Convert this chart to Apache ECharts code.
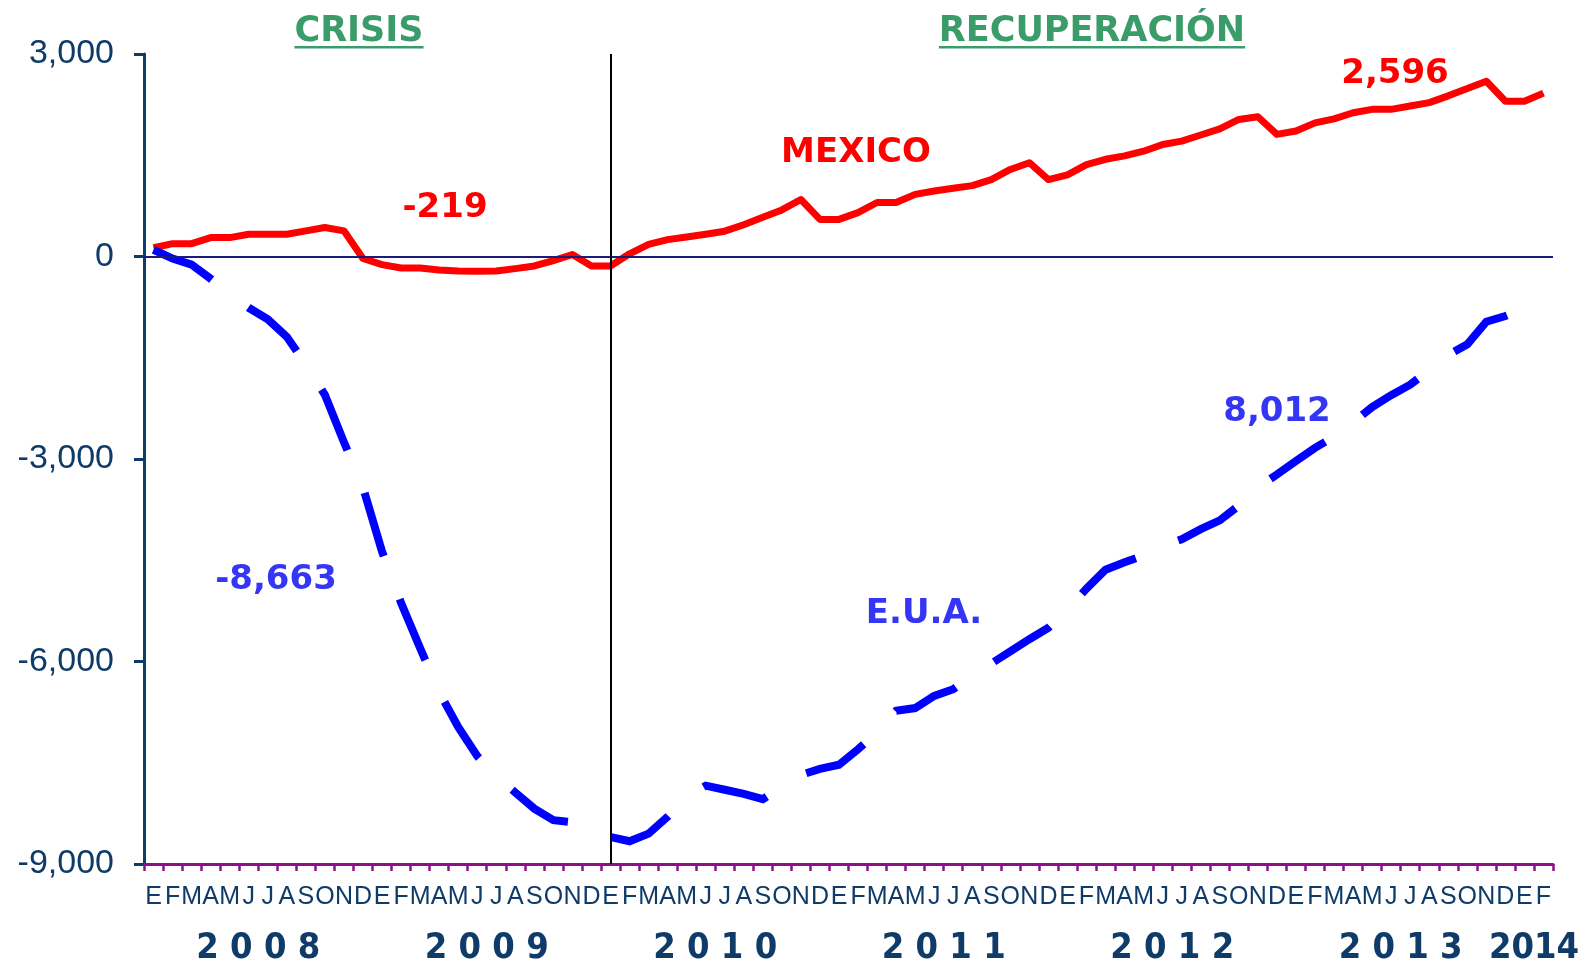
<!DOCTYPE html>
<html>
<head>
<meta charset="utf-8">
<script src="https://cdn.jsdelivr.net/npm/echarts@6/dist/echarts.min.js"></script>
<style>
html, body { margin: 0; padding: 0; background: #fff; }
#chart { width: 1586px; height: 967px; }
</style>
</head>
<body>
<div id="chart"></div>
<script>
// month initials (Spanish), one block per year
var monthLetters = ['E', 'F', 'M', 'A', 'M', 'J', 'J', 'A', 'S', 'O', 'N', 'D'];
var years = ['2008', '2009', '2010', '2011', '2012', '2013', '2014'];
var monthsPerYear = [12, 12, 12, 12, 12, 12, 2];
var yTicks = [-9000, -6000, -3000, 0, 3000];

// cumulative change in employment, Jan 2008 - Feb 2014
var mexico = [
	130, 190, 190, 280, 280, 330, 330, 330, 380, 430, 380, -30,
	-120, -170, -170, -200, -215, -219, -215, -180, -140, -60, 30, -140,
	-140, 40, 180, 250, 290, 330, 375, 470, 580, 690, 845, 550,
	550, 650, 800, 800, 920, 970, 1010, 1050, 1140, 1290, 1390, 1140,
	1210, 1360, 1440, 1490, 1560, 1660, 1710, 1800, 1890, 2030, 2070, 1810,
	1860, 1980, 2040, 2130, 2180, 2180, 2230, 2280, 2380, 2490, 2596, 2300,
	2300, 2420
];
var eua = [
	100, -30, -120, -330, -560, -760, -930, -1190, -1600, -2050, -2750, -3420,
	-4370, -5130, -5800, -6450, -6970, -7400, -7700, -7940, -8180, -8350, -8380, -8500,
	-8600, -8663, -8550, -8300, -8000, -7840, -7900, -7960, -8040, -7850, -7680, -7590,
	-7530, -7300, -7050, -6730, -6690, -6510, -6410, -6200, -6030, -5850, -5670, -5500,
	-5230, -4920, -4640, -4530, -4430, -4290, -4190, -4040, -3910, -3690, -3420, -3230,
	-3030, -2835, -2670, -2460, -2230, -2055, -1900, -1680, -1460, -1300, -966, -882,
	-770, -651
];

var RED = '#ff0000', BLUE = '#0000ff', TXT_BLUE = '#3535f5';
var NAVY = '#0f3b69', PURPLE = '#8c128c', GREEN = '#3a9c69';

var categories = [];
var yearLabelAt = {};
years.forEach(function (y, k) {
	var start = categories.length;
	for (var m = 0; m < monthsPerYear[k]; m++) categories.push(monthLetters[m]);
	var mid = start + monthsPerYear[k] / 2;
	yearLabelAt[mid] = monthsPerYear[k] == 12 ? y.split('').join(' ') : y;
});

var TITLE_FONT = 'bold 35px "DejaVu Sans"';
var ctx = document.createElement('canvas').getContext('2d');
function textWidth(t, f) { ctx.font = f; return ctx.measureText(t).width; }

function note(text, x, y, color, font) {
	return {
		type: 'text', x: x, y: y, z: 20,
		style: { text: text, fill: color, font: font, align: 'center', verticalAlign: 'middle', textAlign: 'center', textVerticalAlign: 'middle' }
	};
}
function header(text, x, y) {
	var w = textWidth(text, TITLE_FONT);
	return [
		note(text, x, y, GREEN, TITLE_FONT),
		{ type: 'rect', z: 20, shape: { x: x - w / 2, y: y + 14, width: w, height: 2.5 }, style: { fill: GREEN } }
	];
}

var LBL_FONT = 'bold 34px "DejaVu Sans"';
var graphics = [].concat(
	header('CRISIS', 359, 32),
	header('RECUPERACIÓN', 1092, 32),
	[
		note('-219', 445, 208, RED, LBL_FONT),
		note('MEXICO', 856, 153, RED, LBL_FONT),
		note('2,596', 1395, 74, RED, LBL_FONT),
		note('-8,663', 276, 580, TXT_BLUE, LBL_FONT),
		note('E.U.A.', 924, 614, TXT_BLUE, LBL_FONT),
		note('8,012', 1277, 412, TXT_BLUE, LBL_FONT)
	]
);

var chart = echarts.init(document.getElementById('chart'));
chart.setOption({
	animation: false,
	backgroundColor: '#fff',
	grid: { left: 144, right: 33, top: 54, bottom: 100, containLabel: false },
	xAxis: [{
		type: 'category',
		data: categories,
		boundaryGap: true,
		axisLine: { onZero: false, lineStyle: { color: PURPLE, width: 3 } },
		axisTick: { show: true, interval: 0, length: 7, lineStyle: { color: PURPLE, width: 2.5 } },
		axisLabel: { interval: 0, margin: 21, color: NAVY, fontSize: 25, fontFamily: '"Liberation Sans Narrow", "Liberation Sans", sans-serif' },
		splitLine: { show: false }
	}, {
		type: 'value',
		min: 0,
		max: categories.length,
		interval: 1,
		position: 'bottom',
		offset: 59,
		axisLine: { show: false, onZero: false },
		axisTick: { show: false },
		splitLine: { show: false },
		axisLabel: {
			margin: 8,
			color: NAVY,
			fontSize: 36,
			fontWeight: 'bold',
			fontFamily: '"DejaVu Sans Condensed", "DejaVu Sans", sans-serif',
			formatter: function (v) { return yearLabelAt[v] || ''; }
		}
	}],
	yAxis: {
		type: 'value',
		min: yTicks[0],
		max: yTicks[yTicks.length - 1],
		interval: yTicks[1] - yTicks[0],
		axisLine: { show: true, onZero: false, lineStyle: { color: NAVY, width: 3 } },
		axisTick: { show: true, length: 10, lineStyle: { color: NAVY, width: 3 } },
		axisLabel: {
			margin: 30, color: NAVY, fontSize: 34, fontFamily: '"Liberation Sans", Arial, sans-serif',
			formatter: function (v) { return v.toLocaleString('en-US'); }
		},
		splitLine: { show: false }
	},
	series: [{
		name: 'MEXICO',
		type: 'line',
		data: mexico,
		symbol: 'none',
		lineStyle: { color: RED, width: 7, join: 'round' },
		markLine: {
			silent: true,
			symbol: 'none',
			label: { show: false },
			data: [
				{ yAxis: 0, lineStyle: { color: '#1c1c78', width: 2, type: 'solid' } },
				{ xAxis: 24, lineStyle: { color: '#000', width: 2, type: 'solid' } }
			]
		}
	}, {
		name: 'E.U.A.',
		type: 'line',
		data: eua,
		symbol: 'none',
		lineStyle: { color: BLUE, width: 8, type: [66, 46], cap: 'butt', join: 'miter' }
	}],
	graphic: graphics
});
</script>
</body>
</html>
